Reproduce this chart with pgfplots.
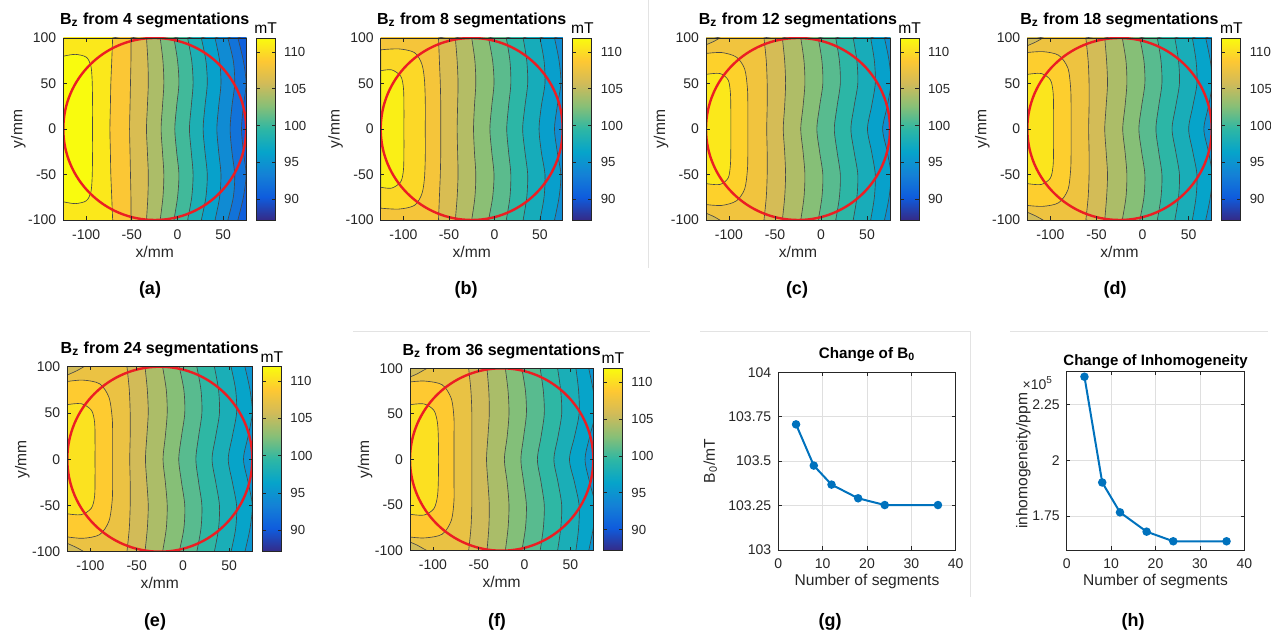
\documentclass[border=0pt]{standalone}
\usepackage{fontspec}
\setmainfont{Liberation Sans}
\usepackage{pgfplots}
\usepackage{pgfplotstable}
\pgfplotsset{compat=1.18}

\definecolor{axgray}{RGB}{38,38,38}
\definecolor{matblue}{RGB}{0,114,189}
\definecolor{circred}{RGB}{235,30,35}
\definecolor{gridgray}{RGB}{223,223,223}

\newcommand{\sz}{\fontsize{7}{8.4}\selectfont}
\newcommand{\csz}{\fontsize{6.6}{8}\selectfont}
\newcommand{\lsz}{\fontsize{7.8}{9.2}\selectfont}

\pgfplotsset{
  colormap={parula}{rgb255=(53,42,135) rgb255=(15,92,221) rgb255=(20,129,214) rgb255=(6,164,202) rgb255=(46,183,164) rgb255=(135,191,119) rgb255=(209,187,89) rgb255=(254,200,50) rgb255=(249,251,14)},
  /pgf/number format/assume math mode=true,
  band/.style={color of colormap/.evaluated={(#1-87.14)*40.37}, fill, draw=black!72, line width=0.32pt},
  mapax/.style={
    scale only axis,
    xmin=-125, xmax=75, ymin=-100, ymax=100,
    xtick={-100,-50,0,50}, ytick={-100,-50,0,50,100},
    axis on top,
    tick align=inside, major tick length=1.8pt,
    axis line style={axgray, line width=0.4pt},
    tick style={axgray, line width=0.4pt},
    tick label style={font=\sz, text=axgray},
    xticklabel style={anchor=base, yshift=-9.6pt, inner sep=0pt},
    xlabel={x/mm}, ylabel={y/mm},
    every axis x label/.style={at={([yshift=-18.6pt]axis description cs:0.5,0)}, anchor=base, font=\lsz, text=axgray},
    every axis y label/.style={at={([xshift=-22.5pt]axis description cs:0,0.5)}, anchor=center, rotate=90, font=\lsz, text=axgray},
    every axis title/.style={at={([yshift=6.5pt]axis description cs:0.5,1)}, anchor=base, font=\bfseries\fontsize{8}{9.6}\selectfont},
    colormap name=parula,
    point meta min=87.14, point meta max=111.91,
    colorbar,
    colorbar style={
      at={(parent axis.north east)}, anchor=north west, xshift=-3.5pt,
      width=9.5pt,
      ytick={90,95,100,105,110},
      yticklabel style={font=\csz, text=axgray, xshift=1pt},
      major tick length=1.8pt, tick align=inside,
      axis line style={axgray, line width=0.4pt},
      tick style={axgray, line width=0.4pt},
      title={mT},
      every axis title/.style={at={([yshift=2.2pt]axis description cs:0.5,1)}, anchor=base, font=\lsz},
    },
  },
  lineax/.style={
    scale only axis,
    xmin=0, xmax=40, xtick={0,10,20,30,40},
    grid=major, grid style={gridgray, line width=0.4pt},
    tick align=inside, major tick length=1.8pt,
    axis line style={axgray, line width=0.4pt},
    tick style={axgray, line width=0.4pt},
    tick label style={font=\sz, text=axgray},
    xticklabel style={anchor=base, yshift=-9.2pt, inner sep=0pt},
    scaled y ticks=false,
    xlabel={Number of segments},
    every axis x label/.style={at={([yshift=-18pt]axis description cs:0.5,0)}, anchor=base, font=\lsz, text=axgray},
  },
}

% contour lines: x position (mm) of each contour line at the given y (mm)
\pgfplotstableread{
y l2 l3 l4 l5 l6 l7 l8 l9 l10 l11
100 -71 -51 -34 -19 -4 11 26 41 55 66
75 -72 -51 -32.5 -16 0 15.5 31 46 61 72
50 -73 -51.5 -32 -15 1.5 17 32.5 47.5 62.5 75
25 -73.5 -52 -33 -16.5 -1 15 30 45 59.5 72
0 -74 -52.5 -34 -18 -3 13 28 43 57.5 70
-25 -73.5 -52 -33 -16.5 -1 15 30 45 59.5 72
-50 -73 -51.5 -32 -15 1.5 17 32.5 47.5 62.5 75
-75 -72 -51 -32.5 -16 0 15.5 31 46 61 72
-100 -71 -51 -34 -19 -4 11 26 41 55 66
}\tabA

\pgfplotstableread{
y c3 c4 c5 c6 c7 c8 c9 c10
100 -61.5 -43 -25 -6.5 13 31.5 50 66
75 -60.5 -41 -21.5 -2 17 35.5 54.5 71
50 -59.5 -40 -20.5 -0.5 18 36.5 55.5 73
25 -59 -40.5 -22 -3 15.5 33.5 51.5 69
0 -59 -41 -23 -5 13.5 31 49 66
-25 -59 -40.5 -22 -3 15.5 33.5 51.5 69
-50 -59.5 -40 -20.5 -0.5 18 36.5 55.5 73
-75 -60.5 -41 -21.5 -2 17 35.5 54.5 71
-100 -61.5 -43 -25 -6.5 13 31.5 50 66
}\tabB

\pgfplotstableread{
y c3 c4 c5 c6 c7 c8 c9 c10
100 -62 -42 -22 -3 16 35 54 69
75 -59.5 -39.5 -18.5 1 20 39 58 74
50 -58.5 -38.5 -17.5 2 21 40 59 76
25 -58.5 -39.5 -19.5 -1.5 17.5 36 55 72
0 -59 -41 -22 -4.5 14.5 32.5 50.5 67
-25 -58.5 -39.5 -19.5 -1.5 17.5 36 55 72
-50 -58.5 -38.5 -17.5 2 21 40 59 76
-75 -59.5 -39.5 -18.5 1 20 39 58 74
-100 -62 -42 -22 -3 16 35 54 69
}\tabC

\pgfplotstableread{
y c3 c4 c5 c6 c7 c8 c9 c10
100 -61.5 -41 -22 -3 16 35 54 68.5
75 -59 -39 -18 1.5 20 39 58 73.5
50 -58 -38 -17 2.5 21 40 59 75.5
25 -58 -39.5 -19 -1 17.5 36 54.5 71.5
0 -58.5 -41 -21.5 -4 14.5 32 50 66.5
-25 -58 -39.5 -19 -1 17.5 36 54.5 71.5
-50 -58 -38 -17 2.5 21 40 59 75.5
-75 -59 -39 -18 1.5 20 39 58 73.5
-100 -61.5 -41 -22 -3 16 35 54 68.5
}\tabD

\pgfplotstableread{
y c3 c4 c5 c6 c7 c8 c9 c10
100 -60.5 -41 -22 -4 15 34 52 67
75 -58 -38.5 -18 1 19.5 38.5 57 72.5
50 -57 -37.5 -17 2 20.5 39.5 58 75
25 -57 -39 -19 -1.5 17 35.5 53.5 70.5
0 -57.5 -40.5 -21.5 -4.5 14 31.5 49 65.5
-25 -57 -39 -19 -1.5 17 35.5 53.5 70.5
-50 -57 -37.5 -17 2 20.5 39.5 58 75
-75 -58 -38.5 -18 1 19.5 38.5 57 72.5
-100 -60.5 -41 -22 -4 15 34 52 67
}\tabE

\pgfplotstableread{
y c3 c4 c5 c6 c7 c8 c9 c10
100 -61 -41 -21 -3 17 36 56 70
75 -58.5 -39 -18 1 20.5 39.5 59 75
50 -57.5 -38.5 -17 2 21.5 40.5 59.5 77
25 -57.5 -40 -19 -1 18 36.5 54.5 71
0 -57.5 -41.5 -22 -4 14 32 49 66
-25 -57.5 -40 -19 -1 18 36.5 54.5 71
-50 -57.5 -38.5 -17 2 21.5 40.5 59.5 77
-75 -58.5 -39 -18 1 20.5 39.5 59 75
-100 -61 -41 -21 -3 17 36 56 70
}\tabF

\begin{document}
\begin{tikzpicture}
\useasboundingbox (0,0) rectangle (635.5pt,318.5pt);

% faint panel separators
\draw[gray!22, line width=0.5pt] (324pt,318.5pt) -- (324pt,184.5pt);
\draw[gray!22, line width=0.5pt] (176.5pt,152.5pt) -- (325pt,152.5pt);
\draw[gray!22, line width=0.5pt] (350pt,152.5pt) -- (485pt,152.5pt) -- (485pt,20pt);
\draw[gray!22, line width=0.5pt] (505pt,152.5pt) -- (634pt,152.5pt);

% ---------------- (a)
\begin{axis}[mapax, at={(31.65pt,208.5pt)}, anchor=south west, width=91.4pt, height=91pt,
  title={B\textsubscript{z} from 4 segmentations}]
\addplot[band=110.8, draw=none] coordinates {(-130,-110) (80,-110) (80,110) (-130,110)} -- cycle;
\addplot[band=108.6, smooth] table[x=l2,y=y]{\tabA} -- (axis cs:200,-150) -- (axis cs:200,150) -- cycle;
\addplot[band=106.3, smooth] table[x=l3,y=y]{\tabA} -- (axis cs:200,-150) -- (axis cs:200,150) -- cycle;
\addplot[band=104.2, smooth] table[x=l4,y=y]{\tabA} -- (axis cs:200,-150) -- (axis cs:200,150) -- cycle;
\addplot[band=102.2, smooth] table[x=l5,y=y]{\tabA} -- (axis cs:200,-150) -- (axis cs:200,150) -- cycle;
\addplot[band=100.2, smooth] table[x=l6,y=y]{\tabA} -- (axis cs:200,-150) -- (axis cs:200,150) -- cycle;
\addplot[band=98.2, smooth] table[x=l7,y=y]{\tabA} -- (axis cs:200,-150) -- (axis cs:200,150) -- cycle;
\addplot[band=96.2, smooth] table[x=l8,y=y]{\tabA} -- (axis cs:200,-150) -- (axis cs:200,150) -- cycle;
\addplot[band=94.2, smooth] table[x=l9,y=y]{\tabA} -- (axis cs:200,-150) -- (axis cs:200,150) -- cycle;
\addplot[band=92.2, smooth] table[x=l10,y=y]{\tabA} -- (axis cs:200,-150) -- (axis cs:200,150) -- cycle;
\addplot[band=90.5, smooth] table[x=l11,y=y]{\tabA} -- (axis cs:200,-150) -- (axis cs:200,150) -- cycle;
\addplot[band=111.9, smooth] coordinates {(-125,80) (-112,82) (-100,79) (-95,70) (-93.5,55) (-93,30) (-93,0) (-93,-30) (-93.5,-55) (-95,-70) (-100,-79) (-112,-82) (-125,-80)} -- cycle;
\draw[circred, line width=1.2pt] (axis cs:-25,0) circle[radius=100];
\end{axis}

% ---------------- (b)
\begin{axis}[mapax, at={(190.35pt,208.5pt)}, anchor=south west, width=91pt, height=91pt,
  title={B\textsubscript{z} from 8 segmentations}]
\addplot[band=108.2, draw=none] coordinates {(-130,-110) (80,-110) (80,110) (-130,110)} -- cycle;
\addplot[band=106.3, smooth] table[x=c3,y=y]{\tabB} -- (axis cs:200,-150) -- (axis cs:200,150) -- cycle;
\addplot[band=104.5, smooth] table[x=c4,y=y]{\tabB} -- (axis cs:200,-150) -- (axis cs:200,150) -- cycle;
\addplot[band=102.8, smooth] table[x=c5,y=y]{\tabB} -- (axis cs:200,-150) -- (axis cs:200,150) -- cycle;
\addplot[band=101.1, smooth] table[x=c6,y=y]{\tabB} -- (axis cs:200,-150) -- (axis cs:200,150) -- cycle;
\addplot[band=99.4, smooth] table[x=c7,y=y]{\tabB} -- (axis cs:200,-150) -- (axis cs:200,150) -- cycle;
\addplot[band=97.7, smooth] table[x=c8,y=y]{\tabB} -- (axis cs:200,-150) -- (axis cs:200,150) -- cycle;
\addplot[band=96, smooth] table[x=c9,y=y]{\tabB} -- (axis cs:200,-150) -- (axis cs:200,150) -- cycle;
\addplot[band=94.3, smooth] table[x=c10,y=y]{\tabB} -- (axis cs:200,-150) -- (axis cs:200,150) -- cycle;
\addplot[band=109.8, smooth] coordinates {(-125,87) (-105,88) (-88,84) (-80,72) (-77,55) (-76,30) (-76,0) (-76,-30) (-77,-55) (-80,-72) (-88,-84) (-105,-88) (-125,-87)} -- cycle;
\addplot[band=111.2, smooth] coordinates {(-125,64) (-113,65) (-103,58) (-100,45) (-99.5,25) (-99.5,0) (-99.5,-25) (-100,-45) (-103,-58) (-113,-65) (-125,-64)} -- cycle;
\draw[circred, line width=1.2pt] (axis cs:-25,0) circle[radius=100];
\end{axis}

% ---------------- (c)
\begin{axis}[mapax, at={(353pt,208.5pt)}, anchor=south west, width=92pt, height=91pt,
  title={B\textsubscript{z} from 12 segmentations}]
\addplot[band=107.9, draw=none] coordinates {(-130,-110) (80,-110) (80,110) (-130,110)} -- cycle;
\addplot[band=106, smooth] table[x=c3,y=y]{\tabC} -- (axis cs:200,-150) -- (axis cs:200,150) -- cycle;
\addplot[band=104.3, smooth] table[x=c4,y=y]{\tabC} -- (axis cs:200,-150) -- (axis cs:200,150) -- cycle;
\addplot[band=102.6, smooth] table[x=c5,y=y]{\tabC} -- (axis cs:200,-150) -- (axis cs:200,150) -- cycle;
\addplot[band=101, smooth] table[x=c6,y=y]{\tabC} -- (axis cs:200,-150) -- (axis cs:200,150) -- cycle;
\addplot[band=99.4, smooth] table[x=c7,y=y]{\tabC} -- (axis cs:200,-150) -- (axis cs:200,150) -- cycle;
\addplot[band=97.8, smooth] table[x=c8,y=y]{\tabC} -- (axis cs:200,-150) -- (axis cs:200,150) -- cycle;
\addplot[band=96.2, smooth] table[x=c9,y=y]{\tabC} -- (axis cs:200,-150) -- (axis cs:200,150) -- cycle;
\addplot[band=94.6, smooth] table[x=c10,y=y]{\tabC} -- (axis cs:200,-150) -- (axis cs:200,150) -- cycle;
\addplot[band=109.4, smooth] coordinates {(-125,83) (-108,84) (-92,79) (-83,66) (-80,45) (-79.5,25) (-79.5,0) (-79.5,-25) (-80,-45) (-83,-66) (-92,-79) (-108,-84) (-125,-83)} -- cycle;
\addplot[band=110.8, smooth] coordinates {(-125,60) (-110,61) (-101,54) (-98.5,40) (-98,20) (-98,0) (-98,-20) (-98.5,-40) (-101,-54) (-110,-61) (-125,-60)} -- cycle;
\addplot[band=106, smooth] coordinates {(-125,92.5) (-117,96) (-110,100)} -- (axis cs:-130,105) -- cycle;
\addplot[band=106, smooth] coordinates {(-125,-92.5) (-117,-96) (-110,-100)} -- (axis cs:-130,-105) -- cycle;
\draw[circred, line width=1.2pt] (axis cs:-25,0) circle[radius=100];
\end{axis}

% ---------------- (d)
\begin{axis}[mapax, at={(513.65pt,208.5pt)}, anchor=south west, width=92.2pt, height=91pt,
  title={B\textsubscript{z} from 18 segmentations}]
\addplot[band=107.7, draw=none] coordinates {(-130,-110) (80,-110) (80,110) (-130,110)} -- cycle;
\addplot[band=105.9, smooth] table[x=c3,y=y]{\tabD} -- (axis cs:200,-150) -- (axis cs:200,150) -- cycle;
\addplot[band=104.2, smooth] table[x=c4,y=y]{\tabD} -- (axis cs:200,-150) -- (axis cs:200,150) -- cycle;
\addplot[band=102.6, smooth] table[x=c5,y=y]{\tabD} -- (axis cs:200,-150) -- (axis cs:200,150) -- cycle;
\addplot[band=101, smooth] table[x=c6,y=y]{\tabD} -- (axis cs:200,-150) -- (axis cs:200,150) -- cycle;
\addplot[band=99.4, smooth] table[x=c7,y=y]{\tabD} -- (axis cs:200,-150) -- (axis cs:200,150) -- cycle;
\addplot[band=97.9, smooth] table[x=c8,y=y]{\tabD} -- (axis cs:200,-150) -- (axis cs:200,150) -- cycle;
\addplot[band=96.4, smooth] table[x=c9,y=y]{\tabD} -- (axis cs:200,-150) -- (axis cs:200,150) -- cycle;
\addplot[band=94.9, smooth] table[x=c10,y=y]{\tabD} -- (axis cs:200,-150) -- (axis cs:200,150) -- cycle;
\addplot[band=109.2, smooth] coordinates {(-125,84) (-108,85) (-91,81) (-81,67) (-78,45) (-77.5,25) (-77.5,0) (-77.5,-25) (-78,-45) (-81,-67) (-91,-81) (-108,-85) (-125,-84)} -- cycle;
\addplot[band=110.6, smooth] coordinates {(-125,60) (-110,61) (-100,54) (-97,40) (-96.5,20) (-96.5,0) (-96.5,-20) (-97,-40) (-100,-54) (-110,-61) (-125,-60)} -- cycle;
\addplot[band=105.9, smooth] coordinates {(-125,91.5) (-116,95.5) (-108,100)} -- (axis cs:-130,105) -- cycle;
\addplot[band=105.9, smooth] coordinates {(-125,-91.5) (-116,-95.5) (-108,-100)} -- (axis cs:-130,-105) -- cycle;
\draw[circred, line width=1.2pt] (axis cs:-25,0) circle[radius=100];
\end{axis}

% ---------------- (e)
\begin{axis}[mapax, at={(33.65pt,42.65pt)}, anchor=south west, width=92.5pt, height=92.5pt,
  title={B\textsubscript{z} from 24 segmentations}]
\addplot[band=107.5, draw=none] coordinates {(-130,-110) (80,-110) (80,110) (-130,110)} -- cycle;
\addplot[band=105.8, smooth] table[x=c3,y=y]{\tabE} -- (axis cs:200,-150) -- (axis cs:200,150) -- cycle;
\addplot[band=104.2, smooth] table[x=c4,y=y]{\tabE} -- (axis cs:200,-150) -- (axis cs:200,150) -- cycle;
\addplot[band=102.6, smooth] table[x=c5,y=y]{\tabE} -- (axis cs:200,-150) -- (axis cs:200,150) -- cycle;
\addplot[band=101, smooth] table[x=c6,y=y]{\tabE} -- (axis cs:200,-150) -- (axis cs:200,150) -- cycle;
\addplot[band=99.5, smooth] table[x=c7,y=y]{\tabE} -- (axis cs:200,-150) -- (axis cs:200,150) -- cycle;
\addplot[band=98, smooth] table[x=c8,y=y]{\tabE} -- (axis cs:200,-150) -- (axis cs:200,150) -- cycle;
\addplot[band=96.5, smooth] table[x=c9,y=y]{\tabE} -- (axis cs:200,-150) -- (axis cs:200,150) -- cycle;
\addplot[band=95, smooth] table[x=c10,y=y]{\tabE} -- (axis cs:200,-150) -- (axis cs:200,150) -- cycle;
\addplot[band=109, smooth] coordinates {(-125,84) (-108,85.5) (-90,81.5) (-80,67) (-76.5,45) (-76,25) (-76,0) (-76,-25) (-76.5,-45) (-80,-67) (-90,-81.5) (-108,-85.5) (-125,-84)} -- cycle;
\addplot[band=110.4, smooth] coordinates {(-125,59) (-110,60) (-99,53) (-95.5,40) (-95,20) (-95,0) (-95,-20) (-95.5,-40) (-99,-53) (-110,-60) (-125,-59)} -- cycle;
\addplot[band=105.8, smooth] coordinates {(-125,91) (-115,95.5) (-107,100)} -- (axis cs:-130,105) -- cycle;
\addplot[band=105.8, smooth] coordinates {(-125,-91) (-115,-95.5) (-107,-100)} -- (axis cs:-130,-105) -- cycle;
\draw[circred, line width=1.2pt] (axis cs:-25,0) circle[radius=100];
\end{axis}

% ---------------- (f)
\begin{axis}[mapax, at={(205pt,43.15pt)}, anchor=south west, width=91.65pt, height=91.2pt,
  title={B\textsubscript{z} from 36 segmentations}]
\addplot[band=107.4, draw=none] coordinates {(-130,-110) (80,-110) (80,110) (-130,110)} -- cycle;
\addplot[band=105.7, smooth] table[x=c3,y=y]{\tabF} -- (axis cs:200,-150) -- (axis cs:200,150) -- cycle;
\addplot[band=104.1, smooth] table[x=c4,y=y]{\tabF} -- (axis cs:200,-150) -- (axis cs:200,150) -- cycle;
\addplot[band=102.5, smooth] table[x=c5,y=y]{\tabF} -- (axis cs:200,-150) -- (axis cs:200,150) -- cycle;
\addplot[band=101, smooth] table[x=c6,y=y]{\tabF} -- (axis cs:200,-150) -- (axis cs:200,150) -- cycle;
\addplot[band=99.5, smooth] table[x=c7,y=y]{\tabF} -- (axis cs:200,-150) -- (axis cs:200,150) -- cycle;
\addplot[band=98, smooth] table[x=c8,y=y]{\tabF} -- (axis cs:200,-150) -- (axis cs:200,150) -- cycle;
\addplot[band=96.5, smooth] table[x=c9,y=y]{\tabF} -- (axis cs:200,-150) -- (axis cs:200,150) -- cycle;
\addplot[band=95, smooth] table[x=c10,y=y]{\tabF} -- (axis cs:200,-150) -- (axis cs:200,150) -- cycle;
\addplot[band=108.9, smooth] coordinates {(-125,85) (-109,86) (-90,82) (-80,67) (-77,45) (-77,25) (-77,0) (-77,-25) (-77,-45) (-80,-67) (-90,-82) (-109,-86) (-125,-85)} -- cycle;
\addplot[band=110.3, smooth] coordinates {(-125,60) (-110,61) (-99,54) (-95,40) (-94,20) (-94,0) (-94,-20) (-95,-40) (-99,-54) (-110,-61) (-125,-60)} -- cycle;
\addplot[band=105.7, smooth] coordinates {(-125,90.5) (-117,94) (-110,98) (-106,100)} -- (axis cs:-130,105) -- cycle;
\addplot[band=105.7, smooth] coordinates {(-125,-90.5) (-117,-94) (-110,-98) (-106,-100)} -- (axis cs:-130,-105) -- cycle;
\draw[circred, line width=1.2pt] (axis cs:-25,0) circle[radius=100];
\end{axis}

% ---------------- (g)
\begin{axis}[lineax, at={(389.15pt,43.5pt)}, anchor=south west, width=88.7pt, height=88.85pt,
  ymin=103, ymax=104, ytick={103,103.25,103.5,103.75,104},
  yticklabels={103,103.25,103.5,103.75,104},
  title={Change of B\textsubscript{0}},
  every axis title/.style={at={([yshift=7pt]axis description cs:0.5,1)}, anchor=base, font=\bfseries\fontsize{7.6}{9}\selectfont},
  ylabel={B\textsubscript{0}/mT},
  every axis y label/.style={at={([xshift=-34pt]axis description cs:0,0.5)}, anchor=center, rotate=90, font=\lsz, text=axgray}]
\addplot[matblue, line width=1pt, mark=*, mark size=1.6pt] coordinates {(4,103.707) (8,103.475) (12,103.368) (18,103.291) (24,103.253) (36,103.253)};
\end{axis}

% ---------------- (h)
\begin{axis}[lineax, name=axh, at={(533.35pt,43.5pt)}, anchor=south west, width=88.8pt, height=89.15pt,
  ymin=159800, ymax=239550, ytick={175000,200000,225000},
  yticklabels={1.75,2,2.25},
  title={Change of Inhomogeneity},
  every axis title/.style={at={([yshift=3pt]axis description cs:0.5,1)}, anchor=base, font=\bfseries\fontsize{7.5}{9}\selectfont},
  ylabel={inhomogeneity/ppm},
  every axis y label/.style={at={([xshift=-21.7pt]axis description cs:0,0.5)}, anchor=center, rotate=90, font=\lsz, text=axgray}]
\addplot[matblue, line width=1pt, mark=*, mark size=1.6pt] coordinates {(4,237300) (8,190000) (12,176650) (18,168000) (24,163700) (36,163700)};
\end{axis}
\node[anchor=north east, inner sep=0pt, font=\sz, text=axgray] at ([xshift=-6.7pt,yshift=-2.2pt]axh.north west) {×10\textsuperscript{5}};

% subfigure labels
\begin{scope}[every node/.style={font=\bfseries\fontsize{9}{10.8}\selectfont}]
\node at (75pt,173.5pt) {(a)};
\node at (233pt,173.5pt) {(b)};
\node at (398.5pt,173.5pt) {(c)};
\node at (557.5pt,173.5pt) {(d)};
\node at (77.5pt,7.7pt) {(e)};
\node at (248.5pt,7.7pt) {(f)};
\node at (415pt,7.7pt) {(g)};
\node at (566.5pt,7.7pt) {(h)};
\end{scope}
\end{tikzpicture}
\end{document}
